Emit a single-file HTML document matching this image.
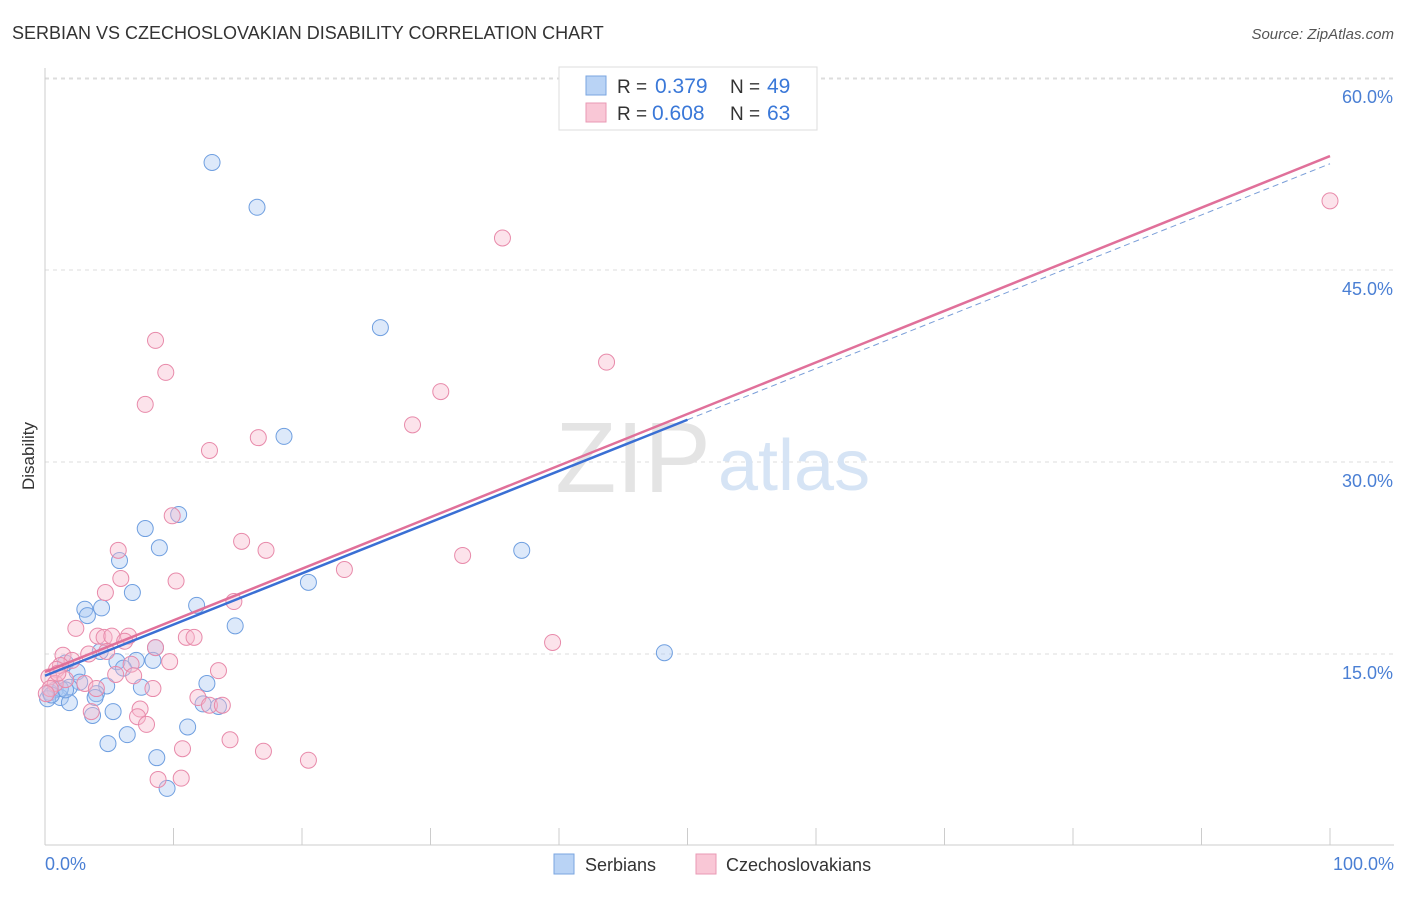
<!DOCTYPE html>
<html><head><meta charset="utf-8">
<style>
body{margin:0;background:#fff;font-family:"Liberation Sans",sans-serif;}
svg text{font-family:"Liberation Sans",sans-serif;}
</style></head>
<body>
<svg id="chart" width="1406" height="892" xmlns="http://www.w3.org/2000/svg">
<text x="12" y="39" font-size="18" fill="#333">SERBIAN VS CZECHOSLOVAKIAN DISABILITY CORRELATION CHART</text>
<text x="1394" y="39" font-size="15" fill="#555" font-style="italic" text-anchor="end">Source: ZipAtlas.com</text>
<g id="grid"></g>
<g>
<text x="633" y="492" font-size="100" fill="#e4e4e4" font-family="Liberation Serif" text-anchor="middle">ZIP</text>
<text x="718" y="490" font-size="72" fill="#d6e4f5">atlas</text>
</g>
<line x1="45" y1="68" x2="45" y2="845" stroke="#ccc"/>
<line x1="45" y1="845" x2="1394" y2="845" stroke="#ccc"/>
<g id="xticks"></g>
<g id="ylabels"></g>
<text x="34" y="456" font-size="17" fill="#333" text-anchor="middle" transform="rotate(-90 34 456)">Disability</text>
<text x="45" y="870" font-size="18" fill="#4a7fd4">0.0%</text>
<text x="1394" y="870" font-size="18" fill="#4a7fd4" text-anchor="end">100.0%</text>
<g id="pts"></g>
<g id="trends"></g>
<g>
<rect x="559" y="67" width="258" height="63" fill="#fff" stroke="#ddd"/>
<rect x="586" y="76" width="20" height="19" fill="#b9d3f5" stroke="#7aa6e0"/>
<g font-size="19">
<text x="617" y="93" fill="#333">R =</text><text x="655" y="93" fill="#3a78d8" font-size="21">0.379</text>
<text x="730" y="93" fill="#333">N =</text><text x="767" y="93" fill="#3a78d8" font-size="21">49</text></g>
<rect x="586" y="103" width="20" height="19" fill="#f9c7d6" stroke="#e99ab4"/>
<g font-size="19">
<text x="617" y="120" fill="#333">R =</text><text x="652" y="120" fill="#3a78d8" font-size="21">0.608</text>
<text x="730" y="120" fill="#333">N =</text><text x="767" y="120" fill="#3a78d8" font-size="21">63</text></g>
</g>
<g>
<rect x="554" y="854" width="20" height="20" fill="#b9d3f5" stroke="#7aa6e0"/>
<text x="585" y="871" font-size="18" fill="#333">Serbians</text>
<rect x="696" y="854" width="20" height="20" fill="#f9c7d6" stroke="#e99ab4"/>
<text x="726" y="871" font-size="18" fill="#333">Czechoslovakians</text>
</g>
</svg>
<script>
const yTicks=[15,30,45,60];
const yTickLabels=["15.0%","30.0%","45.0%","60.0%"];
const xTicks=[0,10,20,30,40,50,60,70,80,90,100];
const serbX=[13.0,16.5,26.1,18.6,10.4,7.8,8.9,5.8,37.1,20.5,6.8,4.4,3.1,3.3,11.8,14.8,8.6,48.2,4.3,5.6,8.4,7.1,6.1,1.6,2.5,2.7,4.8,7.5,12.6,0.8,1.9,0.4,1.2,0.2,4.0,3.9,1.9,12.3,13.5,5.3,3.7,11.1,6.4,4.9,8.7,9.5,1.2,0.5,1.6];
const serbY=[53.4,49.9,40.5,32.0,25.9,24.8,23.3,22.3,23.1,20.6,19.8,18.6,18.5,18.0,18.8,17.2,15.5,15.1,15.2,14.4,14.5,14.5,13.9,14.3,13.6,12.8,12.5,12.4,12.7,12.2,12.4,12.0,11.6,11.5,11.9,11.6,11.2,11.1,10.9,10.5,10.2,9.3,8.7,8.0,6.9,4.5,12.3,11.8,12.2];
const czX=[100,35.6,8.6,9.4,43.7,7.8,30.8,28.6,16.6,12.8,9.9,15.3,5.7,17.2,32.5,23.3,5.9,10.2,4.7,14.7,2.4,39.5,4.1,4.6,5.2,6.5,6.2,11.0,11.6,8.6,4.8,3.4,1.4,2.1,9.7,1.2,6.7,13.5,0.9,5.5,0.3,3.1,6.9,0.8,8.4,11.9,4.0,1.6,12.8,13.8,7.4,7.2,7.9,3.6,14.4,10.7,17.0,20.5,8.8,10.6,0.4,0.1,1.0];
const czY=[50.4,47.5,39.5,37.0,37.8,34.5,35.5,32.9,31.9,30.9,25.8,23.8,23.1,23.1,22.7,21.6,20.9,20.7,19.8,19.1,17.0,15.9,16.4,16.3,16.4,16.4,16.0,16.3,16.3,15.5,15.2,15.0,14.9,14.5,14.4,14.1,14.2,13.7,13.8,13.4,13.2,12.7,13.3,12.7,12.3,11.6,12.3,13.0,11.0,11.0,10.7,10.1,9.5,10.5,8.3,7.6,7.4,6.7,5.2,5.3,12.3,11.9,13.5];
const serbTrend=[13.3,53.3];
const czTrend=[13.6,53.9];
const NS="http://www.w3.org/2000/svg";
const X=v=>45+v*12.85, Y=v=>846-v*12.8;
function mk(tag,attrs,parent){const e=document.createElementNS(NS,tag);for(const k in attrs)e.setAttribute(k,attrs[k]);document.getElementById(parent).appendChild(e);return e;}
yTicks.forEach((t,i)=>{
 const l=mk('line',{x1:45,x2:1394,y1:Y(t),y2:Y(t),stroke:'#ddd','stroke-dasharray':'4,4'},'grid');
 
 
 const tx=mk('text',{x:1393,y:Y(t)+25,'font-size':18,fill:'#4a7fd4','text-anchor':'end'},'ylabels');
 tx.textContent=yTickLabels[i];
 
 
});
const gt=mk('line',{x1:45,x2:1394,y1:79,y2:79,stroke:'#ddd','stroke-dasharray':'4,4'},'grid');


xTicks.forEach(t=>{
 const l=mk('line',{x1:X(t),x2:X(t),y1:828,y2:845,stroke:'#ccc'},'xticks');
 
 
});
function pts(xs,ys,fill,stroke,name){xs.forEach((x,i)=>{
 const c=mk('circle',{cx:X(x),cy:Y(ys[i]),r:8,fill:fill,'fill-opacity':0.4,stroke:stroke,'stroke-width':1},'pts');
 
 
});}
pts(serbX,serbY,'#a9c8f2','#6f9fe0','serbian-point');
pts(czX,czY,'#f7b8cc','#e88aaa','czechoslovakian-point');
const sm=serbTrend[0]+(serbTrend[1]-serbTrend[0])*0.5;
let t1=mk('line',{x1:X(50),y1:Y(sm),x2:X(100),y2:Y(serbTrend[1]),stroke:'#7a9ed8','stroke-width':1,'stroke-dasharray':'6,4'},'trends');


let t2=mk('line',{x1:X(0),y1:Y(czTrend[0]),x2:X(100),y2:Y(czTrend[1]),stroke:'#e0709a','stroke-width':2.5},'trends');


let t3=mk('line',{x1:X(0),y1:Y(serbTrend[0]),x2:X(50),y2:Y(sm),stroke:'#3a6fd4','stroke-width':2.5},'trends');


</script>
</body></html>
